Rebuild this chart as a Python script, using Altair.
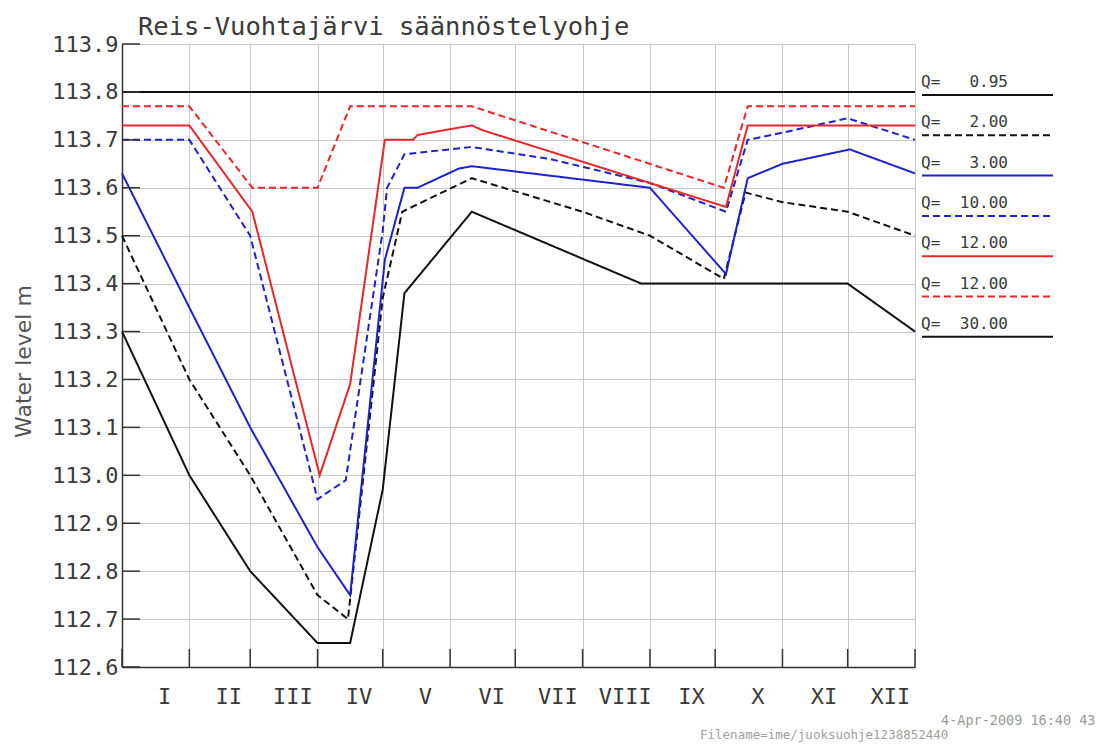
import altair as alt
import pandas as pd

# ---- axis categories / ticks ----
month_names = ["I", "II", "III", "IV", "V", "VI", "VII", "VIII", "IX", "X", "XI", "XII"]
month_days = [31, 28, 31, 30, 31, 30, 31, 31, 30, 31, 30, 31]
level_ticks = [112.6, 112.7, 112.8, 112.9, 113.0, 113.1, 113.2, 113.3,
               113.4, 113.5, 113.6, 113.7, 113.8, 113.9]

chart_title = "Reis-Vuohtajärvi säännöstelyohje"
stamp_text = "4-Apr-2009 16:40 43"
file_text = "Filename=ime/juoksuohje1238852440"

# ---- series (one rule curve per discharge Q) ----
series_keys = ["q095", "q2", "q3", "q10", "q12a", "q12b", "q30"]
legend_q = ["0.95", "2.00", "3.00", "10.00", "12.00", "12.00", "30.00"]
series_colors = ["#111111", "#111111", "#1f22c9", "#1f22c9", "#e6262a", "#e6262a", "#111111"]
series_dashed = [False, True, False, True, False, True, False]

# day of year -> water level (m)
q095_day = [0, 31, 59, 90, 105, 120, 130, 161, 239, 334, 365]
q095_lvl = [113.30, 113.00, 112.80, 112.65, 112.65, 112.97, 113.38, 113.55, 113.40, 113.40, 113.30]

q2_day = [0, 31, 59, 90, 104, 120, 129, 161, 212, 243, 277, 287, 304, 334, 365]
q2_lvl = [113.50, 113.20, 113.00, 112.75, 112.70, 113.37, 113.55, 113.62, 113.55, 113.50,
          113.41, 113.59, 113.57, 113.55, 113.50]

q3_day = [0, 31, 59, 90, 105, 121, 130, 136, 155, 161, 243, 278, 288, 304, 335, 365]
q3_lvl = [113.63, 113.35, 113.10, 112.85, 112.75, 113.45, 113.60, 113.60, 113.64, 113.645,
          113.60, 113.42, 113.62, 113.65, 113.68, 113.63]

q10_day = [0, 31, 59, 90, 103, 120, 122, 130, 161, 197, 243, 278, 288, 304, 334, 365]
q10_lvl = [113.70, 113.70, 113.50, 112.95, 112.99, 113.51, 113.60, 113.67, 113.685, 113.66,
           113.61, 113.55, 113.70, 113.715, 113.745, 113.70]

q12a_day = [0, 31, 60, 91, 105, 121, 134, 136, 148, 161, 166, 243, 278, 288, 365]
q12a_lvl = [113.73, 113.73, 113.55, 113.00, 113.19, 113.70, 113.70, 113.71, 113.72, 113.73,
            113.72, 113.61, 113.56, 113.73, 113.73]

q12b_day = [0, 31, 60, 90, 105, 161, 277, 288, 365]
q12b_lvl = [113.77, 113.77, 113.60, 113.60, 113.77, 113.77, 113.60, 113.77, 113.77]

q30_day = [0, 365]
q30_lvl = [113.80, 113.80]

curve_days = {"q095": q095_day, "q2": q2_day, "q3": q3_day, "q10": q10_day,
              "q12a": q12a_day, "q12b": q12b_day, "q30": q30_day}
curve_levels = {"q095": q095_lvl, "q2": q2_lvl, "q3": q3_lvl, "q10": q10_lvl,
                "q12a": q12a_lvl, "q12b": q12b_lvl, "q30": q30_lvl}

# ---- derived tables ----
boundaries = [0]
for n in month_days:
    boundaries.append(boundaries[-1] + n)
month_mid = [(boundaries[i] + boundaries[i + 1]) / 2 for i in range(12)]

rows = []
for key in series_keys:
    for d, v in zip(curve_days[key], curve_levels[key]):
        rows.append({"series": key, "day": d, "level": v})
lines_df = pd.DataFrame(rows)

DASH = [7, 4]
SOLID = [1, 0]
dash_range = [DASH if d else SOLID for d in series_dashed]

W, H = 793, 623
FONT_MONO = "DejaVu Sans Mono"
TEXT = "#3a3a3a"

x_scale = alt.Scale(domain=[0, 365], nice=False, zero=False)
y_scale = alt.Scale(domain=[112.6, 113.9], nice=False, zero=False)

curves = alt.Chart(lines_df).mark_line(strokeWidth=2).encode(
    x=alt.X("day:Q", scale=x_scale,
            axis=alt.Axis(values=boundaries, labels=False, ticks=False, tickSize=0,
                          grid=True, title=None)),
    y=alt.Y("level:Q", scale=y_scale,
            axis=alt.Axis(values=level_ticks, format=".1f", ticks=False, tickSize=0,
                          labelPadding=4, grid=True, title="Water level m",
                          titleX=-99, titleY=317, titleAngle=270,
                          titleAlign="center", titleBaseline="middle")),
    color=alt.Color("series:N", scale=alt.Scale(domain=series_keys, range=series_colors),
                    legend=None),
    strokeDash=alt.StrokeDash("series:N", scale=alt.Scale(domain=series_keys, range=dash_range),
                              legend=None),
    detail="series:N",
)

# inward tick marks on both axes
y_ticks = alt.Chart(pd.DataFrame({"level": level_ticks})).mark_rule(
    color="#333333", strokeWidth=1.5
).encode(y="level:Q", x=alt.value(0), x2=alt.value(18))

x_ticks = alt.Chart(pd.DataFrame({"day": boundaries})).mark_rule(
    color="#333333", strokeWidth=1.5
).encode(x="day:Q", y=alt.value(H - 18), y2=alt.value(H))

# month labels under the axis
month_labels = alt.Chart(pd.DataFrame({"day": month_mid, "name": month_names})).mark_text(
    font=FONT_MONO, fontSize=22, color=TEXT, align="center", baseline="middle", dx=9
).encode(x="day:Q", y=alt.value(653), text="name:N")

title = alt.Chart(pd.DataFrame({"t": [chart_title]})).mark_text(
    font=FONT_MONO, fontSize=25.5, color=TEXT, align="left", baseline="alphabetic"
).encode(x=alt.value(16), y=alt.value(-9.5), text="t:N")

stamp = alt.Chart(pd.DataFrame({"t": [stamp_text]})).mark_text(
    font=FONT_MONO, fontSize=13.5, color="#9a9a9a", align="left", baseline="middle"
).encode(x=alt.value(819), y=alt.value(677), text="t:N")

fname = alt.Chart(pd.DataFrame({"t": [file_text]})).mark_text(
    font=FONT_MONO, fontSize=12.5, color="#a0a0a0", align="left", baseline="middle"
).encode(x=alt.value(578), y=alt.value(691), text="t:N")

# legend column to the right of the plot
legend_layers = []
for i, key in enumerate(series_keys):
    item = pd.DataFrame({"series": [key], "q": [legend_q[i]]})
    ly = 51 + 40.3 * i
    line_kw = dict(color=series_colors[i], strokeWidth=2)
    if series_dashed[i]:
        line_kw["strokeDash"] = DASH
    legend_layers.append(
        alt.Chart(item).mark_rule(**line_kw).encode(
            x=alt.value(800), x2=alt.value(931), y=alt.value(ly))
    )
    legend_layers.append(
        alt.Chart(item).mark_text(font=FONT_MONO, fontSize=16, color=TEXT,
                                  align="left", baseline="alphabetic", text="Q=").encode(
            x=alt.value(799), y=alt.value(ly - 8))
    )
    legend_layers.append(
        alt.Chart(item).mark_text(font=FONT_MONO, fontSize=16, color=TEXT,
                                  align="right", baseline="alphabetic").encode(
            x=alt.value(886), y=alt.value(ly - 8), text="q:N")
    )

chart = alt.layer(
    curves, y_ticks, x_ticks, month_labels, title, stamp, fname, *legend_layers
).properties(
    width=W, height=H,
    autosize=alt.AutoSizeParams(type="none"),
    padding={"left": 122, "top": 44, "right": 192, "bottom": 77},
    background="white",
).configure_view(
    strokeWidth=0
).configure_axis(
    labelFont=FONT_MONO, labelFontSize=22, labelColor=TEXT,
    gridColor="#c8c8c8", gridWidth=1,
    domainColor="#333333", domainWidth=1.5,
    titleFont="DejaVu Sans", titleFontSize=22, titleFontWeight="normal", titleColor="#555555",
)

chart.save("out.html", embed_options={"renderer": "svg", "actions": False})
